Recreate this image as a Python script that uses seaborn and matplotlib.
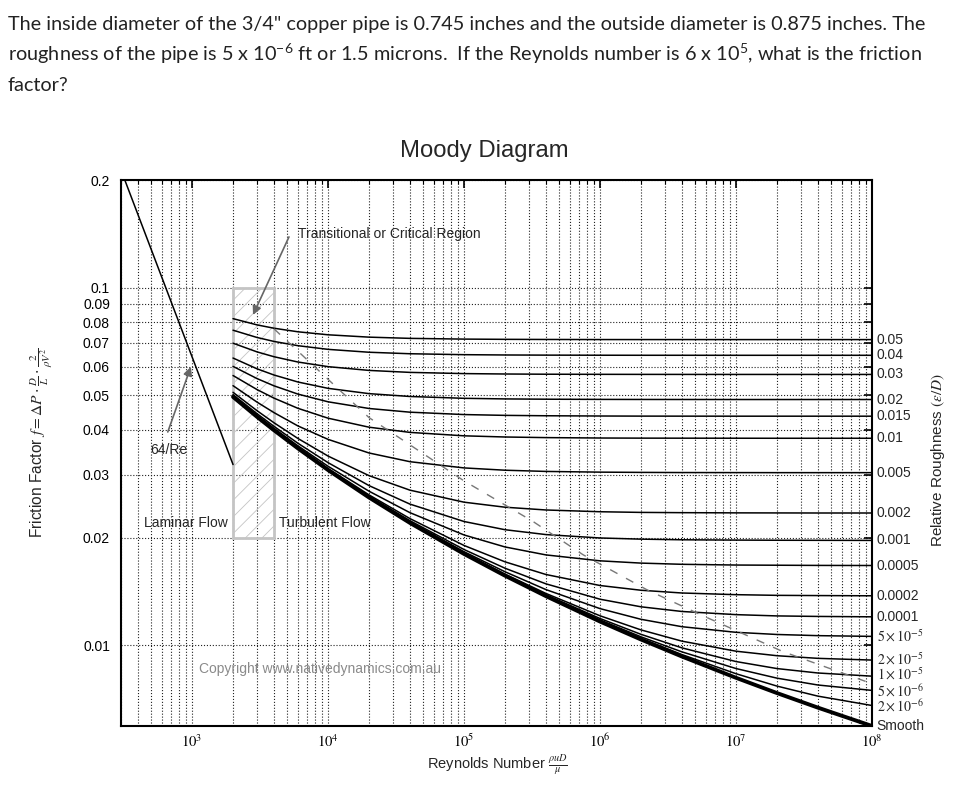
import numpy as np
import pandas as pd
import matplotlib
matplotlib.use("Agg")
import matplotlib.pyplot as plt
import matplotlib.transforms as mtrans
import seaborn as sns
from matplotlib.patches import Rectangle
from matplotlib.ticker import FixedLocator, LogLocator, NullLocator, NullFormatter

# ---------------- data ----------------
RE = [2e3, 3e3, 4e3, 6e3, 1e4, 2e4, 4e4, 1e5, 2e5, 4e5, 1e6, 2e6, 4e6, 1e7, 2e7, 4e7, 1e8]

F_0_05 = [0.08189, 0.07867, 0.07699, 0.07524, 0.07380, 0.07269, 0.07212, 0.07178, 0.07167, 0.07161, 0.07157, 0.07156, 0.07156, 0.07155, 0.07155, 0.07155, 0.07155]
F_0_04 = [0.07601, 0.07254, 0.07071, 0.06880, 0.06719, 0.06595, 0.06532, 0.06493, 0.06480, 0.06474, 0.06470, 0.06468, 0.06468, 0.06467, 0.06467, 0.06467, 0.06467]
F_0_03 = [0.06991, 0.06611, 0.06408, 0.06193, 0.06011, 0.05867, 0.05793, 0.05748, 0.05733, 0.05725, 0.05721, 0.05719, 0.05718, 0.05717, 0.05717, 0.05717, 0.05717]
F_0_02 = [0.06354, 0.05929, 0.05696, 0.05445, 0.05227, 0.05052, 0.04960, 0.04902, 0.04883, 0.04874, 0.04868, 0.04866, 0.04865, 0.04864, 0.04864, 0.04864, 0.04864]
F_0_015 = [0.06021, 0.05567, 0.05313, 0.05037, 0.04793, 0.04591, 0.04483, 0.04415, 0.04392, 0.04381, 0.04374, 0.04371, 0.04370, 0.04369, 0.04369, 0.04369, 0.04369]
F_0_01 = [0.05677, 0.05187, 0.04908, 0.04596, 0.04313, 0.04070, 0.03936, 0.03850, 0.03821, 0.03806, 0.03796, 0.03793, 0.03792, 0.03791, 0.03790, 0.03790, 0.03790]
F_0_005 = [0.05318, 0.04784, 0.04471, 0.04103, 0.03763, 0.03447, 0.03259, 0.03131, 0.03085, 0.03061, 0.03047, 0.03042, 0.03039, 0.03038, 0.03037, 0.03037, 0.03037]
F_0_002 = [0.05095, 0.04528, 0.04188, 0.03785, 0.03379, 0.02979, 0.02713, 0.02511, 0.02431, 0.02388, 0.02361, 0.02351, 0.02347, 0.02344, 0.02343, 0.02342, 0.02342]
F_0_001 = [0.05020, 0.04441, 0.04093, 0.03670, 0.03239, 0.02794, 0.02480, 0.02217, 0.02103, 0.02038, 0.01994, 0.01979, 0.01971, 0.01967, 0.01965, 0.01964, 0.01963]
F_0_0005 = [0.04984, 0.04397, 0.04041, 0.03610, 0.03164, 0.02695, 0.02347, 0.02033, 0.01882, 0.01788, 0.01721, 0.01696, 0.01683, 0.01675, 0.01673, 0.01671, 0.01670]
F_0_0002 = [0.04961, 0.04369, 0.04010, 0.03575, 0.03119, 0.02632, 0.02259, 0.01900, 0.01710, 0.01576, 0.01468, 0.01424, 0.01399, 0.01384, 0.01378, 0.01376, 0.01374]
F_0_0001 = [0.04953, 0.04361, 0.04001, 0.03563, 0.03104, 0.02610, 0.02229, 0.01851, 0.01641, 0.01484, 0.01344, 0.01280, 0.01242, 0.01217, 0.01207, 0.01203, 0.01200]
F_5e_5 = [0.04948, 0.04356, 0.03995, 0.03556, 0.03096, 0.02599, 0.02213, 0.01825, 0.01604, 0.01430, 0.01265, 0.01181, 0.01126, 0.01086, 0.01071, 0.01063, 0.01058]
F_2e_5 = [0.04947, 0.04354, 0.03993, 0.03553, 0.03092, 0.02593, 0.02204, 0.01810, 0.01580, 0.01395, 0.01208, 0.01103, 0.01026, 0.009616, 0.009341, 0.009184, 0.009082]
F_1e_5 = [0.04947, 0.04352, 0.03992, 0.03552, 0.03090, 0.02591, 0.02200, 0.01804, 0.01572, 0.01383, 0.01187, 0.01072, 0.009825, 0.008996, 0.008599, 0.008357, 0.008188]
F_5e_6 = [0.04947, 0.04351, 0.03991, 0.03551, 0.03089, 0.02590, 0.02199, 0.01802, 0.01568, 0.01377, 0.01176, 0.01055, 0.009575, 0.008600, 0.008084, 0.007735, 0.007471]
F_2e_6 = [0.04947, 0.04351, 0.03991, 0.03551, 0.03088, 0.02588, 0.02198, 0.01800, 0.01565, 0.01373, 0.01169, 0.01045, 0.009410, 0.008318, 0.007681, 0.007200, 0.006778]
F_SMOOTH = [0.04947, 0.04351, 0.03991, 0.03551, 0.03088, 0.02588, 0.02197, 0.01799, 0.01564, 0.01371, 0.01164, 0.01037, 0.009294, 0.008102, 0.007344, 0.006686, 0.005940]

ROUGH_LABELS = ["0.05", "0.04", "0.03", "0.02", "0.015", "0.01", "0.005", "0.002",
                "0.001", "0.0005", "0.0002", "0.0001",
                r"$5\times10^{-5}$", r"$2\times10^{-5}$", r"$1\times10^{-5}$",
                r"$5\times10^{-6}$", r"$2\times10^{-6}$", "Smooth"]
ROUGH_CURVES = [F_0_05, F_0_04, F_0_03, F_0_02, F_0_015, F_0_01, F_0_005, F_0_002,
                F_0_001, F_0_0005, F_0_0002, F_0_0001, F_5e_5, F_2e_5, F_1e_5,
                F_5e_6, F_2e_6, F_SMOOTH]
# small vertical nudges (pixels, + = up) of the right-hand labels to keep them apart
LABEL_NUDGE_PX = [0, 0, 0, 0, 0, 0, 0, 0, 0, 0, 0, 0, 0, 1, 1.5, -0.5, -1, 0]

LAMINAR_RE = [300, 2000]
LAMINAR_F = [0.2133, 0.032]

BOUNDARY_RE = [4000, 2e4, 1e5, 3.2e5, 7.5e5, 2.2e6, 5.4e6, 2.2e7, 1e8]
BOUNDARY_F = [0.0767, 0.0433, 0.0288, 0.0222, 0.0179, 0.0143, 0.0122, 0.0096, 0.0078]

Y_TICKS = [0.01, 0.02, 0.03, 0.04, 0.05, 0.06, 0.07, 0.08, 0.09, 0.1, 0.2]
Y_TICKLABELS = ["0.01", "0.02", "0.03", "0.04", "0.05", "0.06", "0.07", "0.08", "0.09", "0.1", "0.2"]
X_TICKS = [1e3, 1e4, 1e5, 1e6, 1e7, 1e8]
X_TICKLABELS = [r"$10^{3}$", r"$10^{4}$", r"$10^{5}$", r"$10^{6}$", r"$10^{7}$", r"$10^{8}$"]

# ---------------- style ----------------
sns.set_style("white")
plt.rcParams["font.family"] = ["Liberation Sans", "DejaVu Sans"]
plt.rcParams["mathtext.fontset"] = "stix"
plt.rcParams["mathtext.rm"] = "Lato"
plt.rcParams["mathtext.it"] = "Lato:italic"
plt.rcParams["mathtext.bf"] = "Lato:bold"
plt.rcParams["hatch.linewidth"] = 0.6

fig = plt.figure(figsize=(9.59, 7.97), dpi=100)
ax = fig.add_axes([121 / 959, 1 - 726 / 797, 751 / 959, 546 / 797])
ax.set_xscale("log")
ax.set_yscale("log")

# rough-pipe curves
rows = []
for lab, fv in zip(ROUGH_LABELS[:-1], ROUGH_CURVES[:-1]):
    for r, f in zip(RE, fv):
        rows.append({"Re": r, "f": f, "eps": lab})
df = pd.DataFrame(rows)
sns.lineplot(data=df, x="Re", y="f", units="eps", estimator=None, sort=False,
             color="black", lw=1.1, ax=ax, legend=False)
sns.lineplot(x=RE, y=F_SMOOTH, color="black", lw=2.8, ax=ax, estimator=None, sort=False)
sns.lineplot(x=LAMINAR_RE, y=LAMINAR_F, color="black", lw=1.1, ax=ax, estimator=None, sort=False)
sns.lineplot(x=BOUNDARY_RE, y=BOUNDARY_F, color="#777777", lw=1.0, ax=ax,
             estimator=None, sort=False, linestyle=(0, (6, 7)))

# transitional region
ax.add_patch(Rectangle((2000, 0.02), 2000, 0.08, fill=False, hatch="//",
                       edgecolor="#c4c4c4", lw=2.0, zorder=1))

ax.set_xlim(300, 1e8)
ax.set_ylim(0.00594, 0.2)
ax.set_xlabel("")
ax.set_ylabel("")

ax.xaxis.set_major_locator(FixedLocator(X_TICKS))
ax.set_xticklabels(X_TICKLABELS)
ax.xaxis.set_minor_locator(LogLocator(base=10, subs=np.arange(2, 10), numticks=30))
ax.xaxis.set_minor_formatter(NullFormatter())
ax.yaxis.set_major_locator(FixedLocator(Y_TICKS))
ax.set_yticklabels(Y_TICKLABELS)
ax.yaxis.set_minor_locator(NullLocator())

ax.tick_params(which="both", direction="in", top=True, right=True, colors="black")
ax.tick_params(which="major", length=6, width=1.2)
ax.tick_params(which="minor", length=3, width=0.8)
ax.tick_params(axis="x", labelsize=10.5, pad=5)
ax.tick_params(axis="y", labelsize=10, pad=8)

ax.grid(True, which="both", axis="x", ls=":", lw=0.8, color="#222222")
ax.grid(True, which="major", axis="y", ls=":", lw=0.8, color="#222222")
for s in ax.spines.values():
    s.set_linewidth(1.5)
    s.set_color("black")

# right-hand roughness labels at curve ends
ytr = ax.get_yaxis_transform()
for lab, fv, dy in zip(ROUGH_LABELS, ROUGH_CURVES, LABEL_NUDGE_PX):
    tr = mtrans.offset_copy(ytr, fig=fig, x=0, y=dy * 72 / 100, units="points")
    ax.text(1.006, fv[-1], lab, transform=tr, ha="left", va="center", fontsize=10,
            clip_on=False)

# annotations
ax.text(6010, 0.1412, "Transitional or Critical Region", fontsize=10, va="center", ha="left")
ax.annotate("", xy=(2750, 0.0825), xytext=(5260, 0.1409),
            arrowprops=dict(arrowstyle="-|>", color="#666666", lw=1.2, mutation_scale=13))
ax.text(491, 0.0352, "64/Re", fontsize=10, va="center", ha="left")
ax.annotate("", xy=(995, 0.0611), xytext=(652, 0.0388),
            arrowprops=dict(arrowstyle="-|>", color="#666666", lw=1.2, mutation_scale=13))
ax.text(1840, 0.0219, "Laminar Flow", fontsize=10, va="center", ha="right")
ax.text(4370, 0.0219, "Turbulent Flow", fontsize=10, va="center", ha="left")
ax.text(1126, 0.00857, "Copyright www.nativedynamics.com.au", fontsize=10,
        va="center", ha="left", color="#8a8a8a")

# titles and axis labels
fig.text(484 / 959, 1 - 151 / 797, "Moody Diagram", fontsize=17.2, ha="center", va="center")
fig.text(497 / 959, 1 - 765 / 797, r"Reynolds Number $\frac{\rho u D}{\mu}$", fontsize=10.5,
         ha="center", va="center")
fig.text(42 / 959, 1 - 443 / 797,
         r"Friction Factor $f = \Delta P \cdot \frac{D}{L} \cdot \frac{2}{\rho V^2}$",
         fontsize=11.2, rotation=90, ha="center", va="center")
fig.text(938 / 959, 1 - 460 / 797, r"Relative Roughness $(\epsilon/D)$", fontsize=11,
         rotation=90, ha="center", va="center")

# question text
hdr = dict(fontsize=14.35, family=["Lato", "DejaVu Sans"], color="#222222",
           va="baseline", ha="left", math_fontfamily="custom")
fig.text(8 / 959, 1 - 30 / 797,
         'The inside diameter of the 3/4" copper pipe is 0.745 inches and the outside diameter is 0.875 inches. The',
         **hdr)
fig.text(8 / 959, 1 - 61 / 797,
         r"roughness of the pipe is 5 x 10$^{-6}$ ft or 1.5 microns.  If the Reynolds number is 6 x 10$^{5}$, what is the friction",
         **hdr)
fig.text(8 / 959, 1 - 91 / 797, "factor?", **hdr)

fig.savefig("out.png", dpi=100)
